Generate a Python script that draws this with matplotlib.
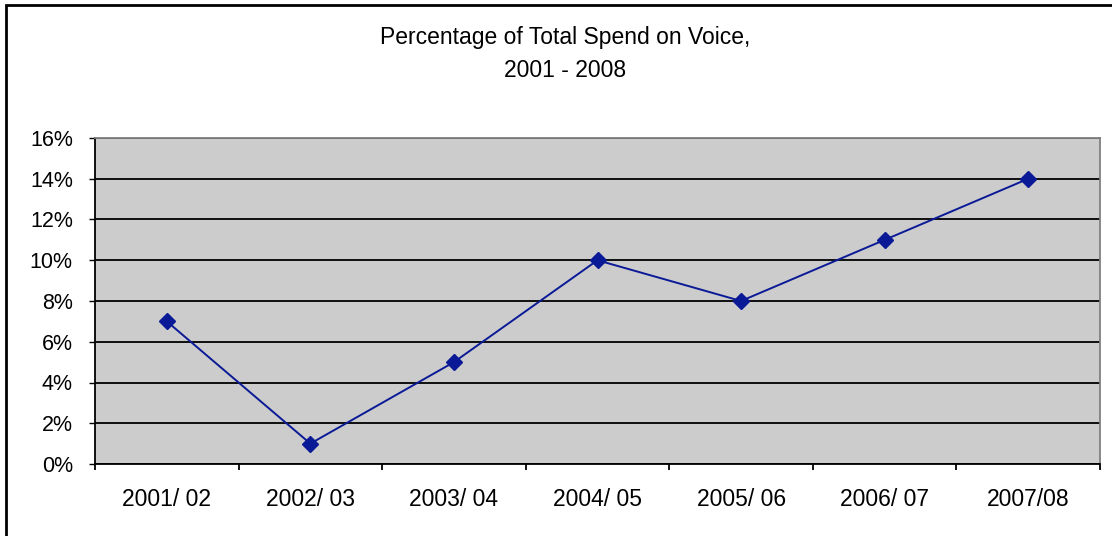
import matplotlib
matplotlib.use("Agg")
from matplotlib import pyplot as plt
import matplotlib.patches as mpatches
from matplotlib.ticker import FixedLocator, PercentFormatter
import numpy as np

years = ["2001/ 02", "2002/ 03", "2003/ 04", "2004/ 05", "2005/ 06", "2006/ 07", "2007/08"]
voice_pct = [7, 1, 5, 10, 8, 11, 14]

plt.rcParams['font.family'] = ['Liberation Sans', 'DejaVu Sans']

fig = plt.figure(figsize=(11.12, 5.36), dpi=100)
ax = fig.add_axes([95/1112, 72/536, 1005/1112, 326/536])
ax.set_facecolor('#cccccc')

x = np.arange(len(years))
ax.plot(x, voice_pct, color='#0a1a96', linewidth=1.4, marker='D', markersize=8.5,
        zorder=3)

ax.set_xlim(-0.5, len(years) - 0.5)
ax.set_ylim(0, 16)
ax.set_yticks(np.arange(0, 17, 2))
ax.yaxis.set_major_formatter(PercentFormatter(decimals=0))
ax.grid(axis='y', color='black', linewidth=1.3, zorder=1)
ax.set_axisbelow(True)

ax.set_xticks(x)
ax.set_xticklabels(years)
ax.xaxis.set_minor_locator(FixedLocator(np.arange(-0.5, len(years), 1)))
ax.tick_params(axis='x', which='major', length=0, pad=17, labelsize=16.5)
ax.tick_params(axis='x', which='minor', length=4, width=1.3, direction='out')
ax.tick_params(axis='y', length=4, width=1, pad=12, labelsize=15.5)

for s in ['left', 'bottom']:
    ax.spines[s].set_color('black')
    ax.spines[s].set_linewidth(1.3)
for s in ['top', 'right']:
    ax.spines[s].set_color('#808080')
    ax.spines[s].set_linewidth(1.3)

fig.text(565/1112, 1 - 44/536, "Percentage of Total Spend on Voice,", ha='center', va='baseline', fontsize=16.5)
fig.text(565/1112, 1 - 77/536, "2001 - 2008", ha='center', va='baseline', fontsize=16.5)

border = mpatches.Rectangle((6/1112, -0.1), 1.2, 1.1 - 5/536, transform=fig.transFigure,
                            fill=False, edgecolor='black', linewidth=2)
fig.patches.append(border)

fig.savefig("out.png", dpi=100)
